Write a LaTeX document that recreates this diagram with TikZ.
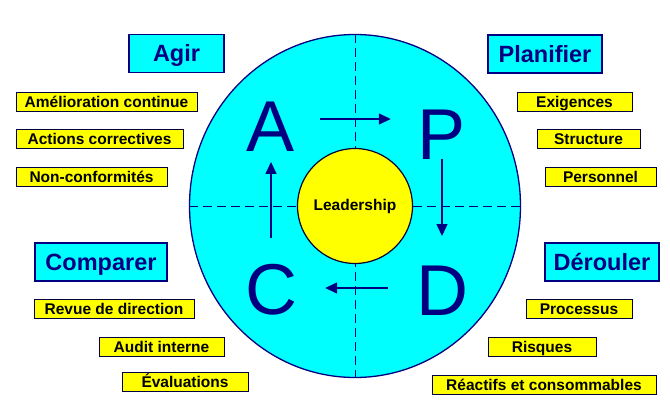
\documentclass[tikz,border=0pt]{standalone}
\usepackage{fontspec}
\setmainfont{Liberation Sans}
\usetikzlibrary{arrows.meta,shapes.geometric}
\definecolor{navy}{RGB}{0,0,128}
\definecolor{aqua}{RGB}{0,255,255}
\definecolor{lemon}{RGB}{255,255,0}
\tikzset
 {> = {Triangle[length=12pt,width=11pt]},        % filled heads for the cycle
  stage/.style =                                 % the four cyan headings
   {draw=navy, line width=1.2pt, fill=aqua, text=navy,
    font=\bfseries\fontsize{23.5}{23.5}\selectfont,
    inner sep=0pt, minimum height=38pt, text height=16.8pt, text depth=0pt
   },
  item/.style =                                  % the yellow labels
   {draw=navy!50!black, line width=1pt, fill=lemon,
    font=\bfseries\fontsize{15.5}{15.5}\selectfont,
    inner sep=0pt, minimum height=19pt, text height=11.1pt, text depth=0pt
   },
  letter/.style = {text=navy, inner sep=0pt, font=\fontsize{72}{72}\selectfont},
  turn/.style = {->, navy, line width=1.3pt},    % arrows of the cycle
  quarter/.style = {navy, line width=1pt, dash pattern=on 9pt off 5pt}
 }

\begin{document}
\begin{tikzpicture}[x=1pt, y=-1pt]
    \useasboundingbox (0,0) rectangle (670,415);
    % wheel
    \node[ellipse, draw=navy, line width=1.3pt, fill=aqua,
          minimum width=331pt, minimum height=343pt] (ring) at (355,206) {};
    \draw[quarter] (ring.north) -- (ring.south);
    \draw[quarter] (ring.west) -- (ring.east);
    \node[circle, draw=navy!40!black, line width=1.2pt, fill=lemon, minimum size=115pt, inner sep=0pt,
          font=\bfseries\fontsize{15.5}{15.5}\selectfont] (hub) at (355,206) {Leadership};
    % PDCA letters
    \node[letter] (A) at (271,127) {A};
    \node[letter] (P) at (442,135) {P};
    \node[letter] (C) at (271,290) {C};
    \node[letter] (D) at (442,291) {D};
    \draw[turn] ([shift={(25pt,8pt)}]A.east) -- ([shift={(-27pt,16pt)}]P.west);
    \draw[turn] ([yshift=1pt]P.south) -- ([yshift=30pt]D.north);
    \draw[turn] ([shift={(-28pt,3pt)}]D.west) -- ([shift={(28pt,2pt)}]C.east);
    \draw[turn] ([yshift=26pt]C.north) -- ([yshift=-10pt]A.south);
    % headings
    \foreach \name/\x/\y/\w/\txt in {agir/176.5/53.5/95/Agir, planifier/545/54/114/Planifier,
                                     comparer/101/262/132/Comparer, derouler/602/262/114/Dérouler}
        \node[stage, minimum width=\w pt] (\name) at (\x,\y) {\txt};
    % labels
    \foreach \name/\x/\y/\w/\txt in {amelioration/106.5/101.5/181/Amélioration continue,
                                     actions/99.5/138.5/167/Actions correctives,
                                     nonconf/91.5/176.5/151/Non-conformités,
                                     exigences/574.5/101.5/115/Exigences,
                                     structure/588.5/138.5/103/Structure,
                                     personnel/600.5/177/111/Personnel,
                                     revue/114/309/160/Revue de direction,
                                     audit/161.5/347/125/Audit interne,
                                     evaluations/185/381.5/126/Évaluations,
                                     processus/579/309/106/Processus,
                                     risques/542/347/108/Risques,
                                     reactifs/544/384.5/224/Réactifs et consommables}
        \node[item, minimum width=\w pt] (\name) at (\x,\y) {\txt};
\end{tikzpicture}
\end{document}
